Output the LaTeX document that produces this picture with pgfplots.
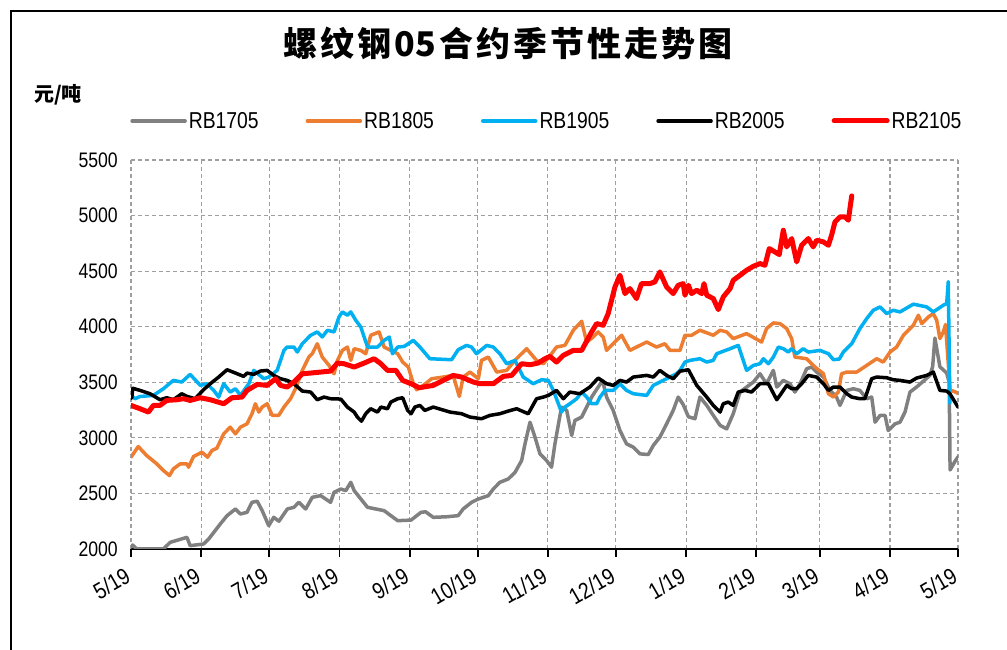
\documentclass[border=0pt]{standalone}
\usepackage{fontspec}
\setmainfont{Liberation Sans}[FakeStretch=0.84]
\newfontfamily\cjk{Noto Sans CJK SC}
\usepackage{pgfplots}
\pgfplotsset{compat=1.18}

\definecolor{c1705}{RGB}{128,128,128}
\definecolor{c1805}{RGB}{237,125,49}
\definecolor{c1905}{RGB}{0,176,240}
\definecolor{c2005}{RGB}{0,0,0}
\definecolor{c2105}{RGB}{255,0,0}

\newcommand\gap{\hspace{3bp}}

\begin{document}
\begin{tikzpicture}
\useasboundingbox (0,0) rectangle (1007bp,650bp);
% outer frame (only left and top edges are visible)
\draw[line width=2bp] (11bp,0) -- (11bp,639bp) -- (1007bp,639bp);

\node at (508bp,607bp) {\cjk\bfseries\fontsize{34bp}{38bp}\selectfont
  螺\gap 纹\gap 钢\gap 05\gap 合\gap 约\gap 季\gap 节\gap 性\gap 走\gap 势\gap 图};
\node at (58bp,555bp) {\cjk\bfseries\fontsize{20bp}{23bp}\selectfont 元/吨};

\begin{axis}[
  at={(131bp,101bp)}, anchor=south west,
  width=827bp, height=389bp, scale only axis,
  xmin=0, xmax=365, ymin=2000, ymax=5500,
  xtick={0,31,61,92,123,153,184,214,245,276,304,335,365},
  xticklabels={5/19,6/19,7/19,8/19,9/19,10/19,11/19,12/19,1/19,2/19,3/19,4/19,5/19},
  ytick={2000,2500,3000,3500,4000,4500,5000,5500},
  /pgf/number format/assume math mode=true,
  /pgf/number format/1000 sep={},
  axis lines*=left,
  x axis line style={line width=2.5bp, black},
  y axis line style={draw=none},
  ytick style={draw=none},
  xtick style={line width=1.8bp, black},
  tick align=outside,
  major tick length=8bp,
  grid=major,
  grid style={dash pattern=on 4bp off 3bp, gray!75, line width=1.1bp},
  tick label style={inner sep=0pt},
  yticklabel style={font=\fontsize{21bp}{24bp}\selectfont, anchor=east, xshift=-5bp},
  xticklabel style={font=\fontsize{23bp}{26bp}\selectfont,
    xshift=-3bp, yshift=-17bp, rotate=30, anchor=east},
  legend columns=5,
  legend style={at={(-0.001,1.1003)}, anchor=west, draw=none, fill=none,
    inner sep=0pt, font=\fontsize{23bp}{26bp}\selectfont,
    nodes={inner xsep=2bp, inner ysep=0pt},
    /tikz/every even column/.append style={column sep=45bp}},
  legend image code/.code={\draw[#1] (0bp,0bp) -- (53bp,0bp);},
  every axis plot/.append style={line join=round, line cap=round},
]

\addplot[color=c1705, line width=3.5bp] coordinates {
(0,2015) (0.7,2036) (2.5,2000) (14.3,2000) (17.3,2060) (24.7,2105) (26.1,2030) (32,2045) (34.3,2090) (39.4,2225) (42.4,2300) (46.1,2360) (48.3,2315) (51.2,2330) (53.4,2420) (55.7,2430) (57.9,2345) (60.8,2210) (63,2285) (65.3,2250) (69,2360) (71.9,2375) (74.1,2420) (77.1,2360) (80,2465) (83.7,2480) (88.1,2420) (89.6,2510) (92.6,2540) (94.8,2525) (97,2600) (98.5,2525) (104.4,2375) (111.7,2345) (117.7,2255) (123.6,2260) (128,2330) (130,2335) (133.4,2285) (139.3,2290) (144.4,2300) (146.6,2360) (150.3,2420) (153.3,2450) (157.7,2480) (159.9,2540) (162.8,2600) (166.5,2630) (169.5,2690) (172.4,2796) (173.9,2946) (176.1,3141) (178.3,3006) (180.5,2856) (183.4,2796) (185.6,2736) (187.1,2946) (190,3277) (192.3,3247) (194.5,3021) (195.9,3156) (198.9,3187) (201.1,3277) (203.3,3367) (206.2,3457) (208.1,3517) (209.9,3367) (212.8,3247) (215.8,3066) (218.7,2946) (221.7,2916) (224.6,2856) (228.3,2850) (230.5,2931) (233.4,3006) (236.4,3126) (239.3,3247) (241.5,3367) (243.7,3300) (246,3190) (248.9,3172) (251.1,3367) (254.1,3292) (257,3202) (260,3112) (262.9,3081) (265.8,3217) (268.8,3412) (271.7,3457) (274.7,3502) (277.6,3577) (280.5,3487) (283.5,3607) (285,3457) (287.9,3517) (290.8,3487) (293,3412) (295.3,3487) (298.2,3622) (300.4,3637) (302.6,3592) (305.6,3547) (308.5,3427) (311.4,3367) (312.9,3292) (315.9,3427) (318.8,3442) (321.7,3427) (324.7,3352) (326.9,3367) (328.4,3141) (330.6,3202) (332.8,3202) (334.2,3066) (337.2,3126) (339.4,3141) (341.6,3232) (343.8,3412) (346.7,3457) (349.7,3510) (352.6,3562) (353.8,3640) (354.8,3898) (357,3640) (360,3583) (361.1,3500) (361.5,2711) (363.6,2786) (365,2830)
};
\addlegendentry{RB1705}

\addplot[color=c1805, line width=3.5bp] coordinates {
(0,2826) (3.2,2922) (6.9,2841) (11.4,2766) (14.3,2706) (17,2661) (18.7,2721) (21.7,2766) (24.7,2766) (25.4,2736) (27.6,2832) (31.3,2871) (33.8,2826) (35.7,2886) (37.9,2907) (40.9,3036) (43.8,3096) (46.1,3036) (48.3,3096) (51.2,3126) (53.4,3217) (54.9,3307) (56.4,3232) (57.9,3277) (60.1,3307) (62.3,3202) (65.2,3202) (67.5,3277) (70.4,3352) (72.6,3442) (75.6,3607) (78.5,3727) (80,3757) (82.2,3847) (84.4,3727) (87.4,3652) (89.6,3577) (91.1,3697) (93.3,3787) (95.5,3817) (97,3697) (98.5,3802) (101.4,3787) (103.6,3757) (105.8,3923) (109.5,3953) (111.7,3817) (114.7,3787) (117.7,3757) (119.9,3682) (122.4,3637) (124.6,3487) (126.1,3433) (129,3472) (132.7,3532) (137.8,3547) (142.2,3562) (144.9,3373) (146.6,3547) (149.6,3592) (153.3,3532) (154.7,3697) (157.7,3727) (161.4,3592) (165.8,3607) (169.4,3697) (174.6,3802) (179,3697) (182,3667) (185.6,3757) (187.8,3817) (191.5,3832) (195.2,3968) (198.9,4049) (201.1,3862) (204,3907) (206.2,3953) (208.4,3907) (209.9,3787) (212.8,3847) (216.5,3923) (220.2,3787) (223.1,3817) (227.6,3862) (232,3817) (235.6,3847) (237.9,3787) (242.3,3787) (244.5,3923) (247.4,3923) (251.1,3968) (257,3923) (260,3968) (262.9,3953) (265.8,3893) (271.7,3938) (278.3,3862) (280.5,3983) (283.5,4034) (286.4,4028) (289.4,3983) (291.6,3893) (293,3727) (298.2,3712) (301.9,3637) (305.6,3577) (307.8,3397) (310,3367) (312.2,3412) (313.6,3577) (315.9,3592) (320.3,3592) (324.7,3652) (329.1,3712) (332,3682) (335,3772) (337.9,3817) (340.9,3923) (345.3,4013) (347.5,4103) (349,4028) (351.9,4088) (354.1,4118) (355.6,4058) (357,3893) (358.5,3953) (359.5,4020) (361.5,3430) (363.6,3415) (365,3400)
};
\addlegendentry{RB1805}

\addplot[color=c1905, line width=3.5bp] coordinates {
(0,3382) (1.8,3352) (4,3372) (9.9,3382) (14.3,3442) (18.7,3517) (22.4,3502) (26.1,3571) (30.6,3472) (33.5,3487) (36.5,3427) (38.7,3367) (40.9,3487) (43.8,3412) (46.1,3442) (48.3,3382) (52,3487) (54.2,3607) (58.6,3532) (60.8,3547) (64.5,3607) (67.5,3787) (68.9,3817) (71.9,3817) (73.4,3772) (75.6,3847) (79.3,3923) (82.2,3953) (84.4,3908) (86.7,3968) (89.6,3953) (91.8,4088) (93.3,4133) (95.5,4103) (97,4133) (99.2,4058) (101.4,3998) (104.4,3817) (108.8,3817) (111.7,3877) (114,3907) (115.4,3757) (117.7,3817) (120.6,3823) (124.6,3877) (127.5,3817) (131.9,3712) (141.5,3703) (144.4,3793) (148.1,3832) (150.3,3817) (152.5,3757) (157,3832) (159.9,3817) (162.8,3757) (165.8,3667) (169.5,3697) (173.1,3547) (177.5,3487) (181.2,3523) (184.2,3517) (186.4,3427) (190,3232) (191.5,3277) (193.7,3307) (196.7,3352) (198.9,3412) (201.1,3367) (203.3,3307) (205.5,3307) (207,3367) (209.2,3427) (212.8,3427) (215.8,3487) (218.7,3427) (221.7,3397) (227.6,3382) (230.5,3472) (234.9,3517) (237.9,3547) (240.8,3577) (242.3,3607) (244.5,3682) (246.7,3697) (251.1,3712) (254.1,3682) (257,3697) (258.5,3757) (264.4,3802) (268,3832) (271.7,3607) (274.7,3652) (277.6,3667) (279.1,3712) (281.3,3667) (283.5,3727) (285.7,3817) (287.9,3802) (290.1,3772) (291.6,3802) (293.8,3757) (296.7,3802) (298.9,3772) (304.1,3787) (307.8,3757) (310,3703) (312.6,3709) (314.4,3772) (318.1,3847) (321.7,3983) (324.7,4073) (327.6,4148) (330.6,4178) (333.5,4118) (336.4,4148) (339.4,4133) (345.3,4203) (351.2,4178) (354.1,4133) (358.5,4193) (360,4208) (360.7,4405) (361.4,3311)
};
\addlegendentry{RB1905}

\addplot[color=c2005, line width=3.5bp] coordinates {
(0.3,3356) (0.8,3446) (4,3427) (8.4,3397) (12.8,3343) (15.8,3361) (18.7,3343) (22.4,3397) (24.7,3373) (28.3,3352) (32,3433) (35,3487) (38.7,3547) (42.4,3613) (46.1,3583) (49.7,3553) (51.2,3583) (54.2,3571) (57.1,3601) (60.1,3607) (63,3562) (66,3532) (68.9,3517) (71.9,3487) (75.6,3421) (79.3,3412) (82.2,3343) (85.2,3367) (88.1,3352) (92.6,3349) (95.5,3277) (98.5,3232) (99.9,3187) (101.7,3150) (103.6,3217) (105.8,3262) (108.8,3232) (110.3,3277) (113.2,3262) (114.7,3322) (117.7,3352) (119.9,3361) (122.1,3247) (123.6,3217) (125.3,3277) (127.5,3292) (129.7,3247) (133.4,3277) (140.8,3232) (145.9,3217) (149.6,3187) (154.7,3172) (158.4,3202) (162.8,3217) (166.5,3241) (170.2,3262) (175.3,3217) (179,3352) (182,3367) (184.2,3382) (187.8,3427) (190.8,3352) (193.7,3412) (198.1,3397) (202.5,3457) (206.2,3538) (209.9,3487) (212.8,3472) (215.8,3517) (218.7,3502) (221.7,3547) (227.6,3562) (230.5,3547) (233.4,3607) (236.4,3562) (239.3,3532) (242.3,3600) (246,3613) (249.7,3472) (254.1,3367) (257,3292) (260,3232) (261.4,3307) (263.6,3322) (265.8,3292) (268,3412) (271,3427) (273.9,3412) (275.4,3442) (277.6,3487) (281.3,3487) (285,3343) (286.4,3382) (289.4,3472) (291.6,3442) (293.8,3442) (296,3487) (298.9,3562) (302.6,3547) (305.6,3487) (307.8,3427) (310,3457) (312.9,3457) (315.9,3397) (318.1,3367) (321.7,3352) (323.9,3352) (326.9,3532) (329.1,3547) (333.5,3541) (336.4,3523) (339.4,3517) (343.8,3502) (346.7,3538) (351.2,3562) (354.1,3592) (357,3427) (360,3421) (361.4,3397) (365,3277)
};
\addlegendentry{RB2005}

\addplot[color=c2105, line width=5bp] coordinates {
(0,3292) (4,3262) (7.7,3232) (9.9,3292) (12.8,3292) (15.8,3337) (20.2,3343) (23.2,3352) (26.1,3337) (30.6,3361) (35,3343) (40.9,3307) (44.6,3361) (49,3367) (51.2,3427) (55.7,3481) (60.1,3472) (63.8,3532) (66,3472) (68.9,3457) (71.9,3502) (75.6,3577) (79.3,3583) (83.7,3592) (88.1,3601) (91.1,3673) (94,3667) (98.5,3637) (102.9,3673) (107.3,3712) (110.3,3667) (113.2,3607) (116.9,3607) (119.9,3517) (123.6,3487) (127.3,3451) (129,3457) (133.4,3472) (137.8,3517) (142.2,3562) (145.9,3547) (151.1,3502) (154,3487) (159.9,3487) (164.3,3553) (168,3562) (172.4,3667) (176.1,3658) (179.7,3673) (182.7,3712) (184.9,3733) (187.8,3682) (190.8,3742) (195.2,3787) (198.9,3787) (203.3,3953) (205.5,4028) (208.4,4013) (210.6,4118) (213.6,4358) (215.8,4463) (218,4298) (220.2,4343) (223.1,4253) (225.3,4388) (229,4388) (231.2,4403) (233.4,4493) (236.4,4358) (239.3,4298) (241.5,4373) (243.7,4388) (244.5,4283) (246,4373) (247.4,4298) (249.7,4328) (251.9,4298) (252.9,4388) (254.1,4283) (257,4253) (259.2,4154) (261.4,4268) (264.4,4343) (265.8,4418) (268.8,4463) (271.7,4508) (274.7,4544) (277.6,4568) (279.8,4553) (281.7,4703) (284.2,4673) (286.1,4649) (287.9,4868) (289.4,4718) (291.6,4793) (293.8,4583) (296,4733) (298.9,4793) (301.1,4718) (302.6,4778) (305.6,4763) (307.8,4733) (309.2,4823) (310.7,4943) (312.9,4988) (315.1,4988) (316.6,4958) (317.3,5063) (318.1,5177)
};
\addlegendentry{RB2105}

\end{axis}
\end{tikzpicture}
\end{document}
